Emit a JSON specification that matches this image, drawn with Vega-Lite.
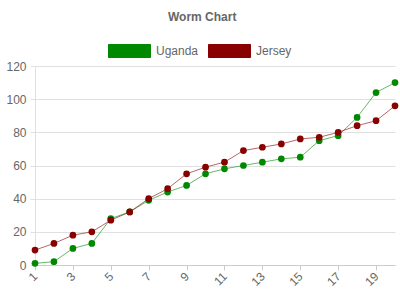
{
  "$schema": "https://vega.github.io/schema/vega-lite/v6.json",
  "width": 360,
  "height": 199,
  "autosize": "none",
  "padding": {"left": 35, "top": 66, "right": 5, "bottom": 35},
  "title": {"text": "Worm Chart", "font": "Liberation Sans", "fontSize": 12, "fontWeight": "bold", "color": "#666666", "anchor": "middle", "frame": "bounds", "offset": 5},
  "config": {"view": {"stroke": null}, "font": "Liberation Sans"},
  "data": {"values": [
    {"x":1,"country":"Uganda","value":1},{"x":2,"country":"Uganda","value":2},{"x":3,"country":"Uganda","value":10},{"x":4,"country":"Uganda","value":13},{"x":5,"country":"Uganda","value":28},{"x":6,"country":"Uganda","value":32},{"x":7,"country":"Uganda","value":39},{"x":8,"country":"Uganda","value":44},{"x":9,"country":"Uganda","value":48},{"x":10,"country":"Uganda","value":55},{"x":11,"country":"Uganda","value":58},{"x":12,"country":"Uganda","value":60},{"x":13,"country":"Uganda","value":62},{"x":14,"country":"Uganda","value":64},{"x":15,"country":"Uganda","value":65},{"x":16,"country":"Uganda","value":75},{"x":17,"country":"Uganda","value":78},{"x":18,"country":"Uganda","value":89},{"x":19,"country":"Uganda","value":104},{"x":20,"country":"Uganda","value":110},
    {"x":1,"country":"Jersey","value":9},{"x":2,"country":"Jersey","value":13},{"x":3,"country":"Jersey","value":18},{"x":4,"country":"Jersey","value":20},{"x":5,"country":"Jersey","value":27},{"x":6,"country":"Jersey","value":32},{"x":7,"country":"Jersey","value":40},{"x":8,"country":"Jersey","value":46},{"x":9,"country":"Jersey","value":55},{"x":10,"country":"Jersey","value":59},{"x":11,"country":"Jersey","value":62},{"x":12,"country":"Jersey","value":69},{"x":13,"country":"Jersey","value":71},{"x":14,"country":"Jersey","value":73},{"x":15,"country":"Jersey","value":76},{"x":16,"country":"Jersey","value":77},{"x":17,"country":"Jersey","value":80},{"x":18,"country":"Jersey","value":84},{"x":19,"country":"Jersey","value":87},{"x":20,"country":"Jersey","value":96}
  ]},
  "encoding": {
    "x": {"field": "x", "type": "quantitative", "scale": {"domain": [1, 20], "nice": false, "zero": false},
      "axis": {"title": null, "values": [1,3,5,7,9,11,13,15,17,19], "grid": false, "labelAngle": -45, "labelAlign": "right", "labelBaseline": "middle", "labelColor": "#666666", "labelFontSize": 12, "domainColor": "#cccccc", "tickColor": "#cccccc", "tickSize": 5, "labelPadding": 4}},
    "y": {"field": "value", "type": "quantitative", "scale": {"domain": [0, 120], "nice": false},
      "axis": {"title": null, "values": [0,20,40,60,80,100,120], "gridColor": "#e0e0e0", "domainColor": "#e0e0e0", "tickColor": "#e0e0e0", "tickSize": 5, "labelColor": "#666666", "labelFontSize": 12, "labelPadding": 4}},
    "color": {"field": "country", "type": "nominal", "scale": {"domain": ["Uganda", "Jersey"], "range": ["#008800", "#880000"]},
      "legend": {"title": null, "orient": "none", "legendX": 73, "legendY": -37, "direction": "horizontal", "symbolType": "M-1,-0.31H1V0.31H-1Z", "symbolSize": 1764, "symbolStrokeWidth": 1, "symbolOpacity": 1, "labelFontSize": 12, "labelColor": "#666666", "columnPadding": 7, "labelOffset": 5}}
  },
  "layer": [
    {"mark": {"type": "line", "strokeWidth": 1, "opacity": 0.6}},
    {"mark": {"type": "point", "filled": true, "size": 45, "opacity": 1}}
  ]
}
